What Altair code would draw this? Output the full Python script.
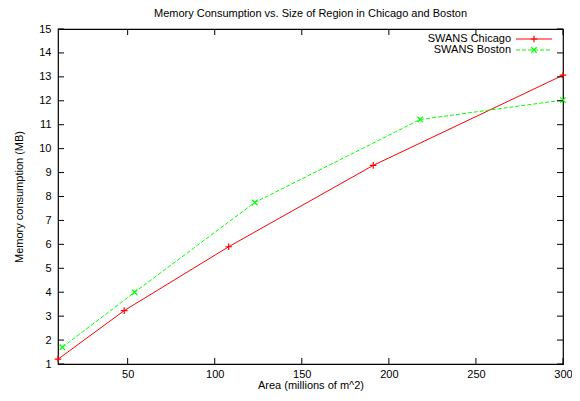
import altair as alt
import pandas as pd

# data
chicago_area = [10, 48, 108, 191, 300]
chicago_mem = [1.2, 3.23, 5.9, 9.3, 13.07]
boston_area = [12.5, 54, 123, 218, 300]
boston_mem = [1.7, 4.0, 7.75, 11.22, 12.03]
x_ticks = [50, 100, 150, 200, 250, 300]
y_ticks = list(range(1, 16))

W, H = 505, 335
FONT = "Liberation Sans"
RED = "#ff0000"
GREEN = "#00ff00"
PLUS = "M-1,0L1,0M0,-1L0,1"
CROSS = "M-1,-1L1,1M-1,1L1,-1"

xs = alt.Scale(domain=[10, 300], nice=False, zero=False)
ys = alt.Scale(domain=[1, 15], nice=False, zero=False)

x_axis = alt.Axis(values=x_ticks, title="Area (millions of m^2)", ticks=False,
                  domain=False, grid=False, labelPadding=4, titlePadding=0,
                  labelFlush=False, labelOverlap=False)
y_axis = alt.Axis(values=y_ticks, title="Memory consumption (MB)", ticks=False,
                  domain=False, grid=False, labelPadding=7, titlePadding=14,
                  labelOverlap=False, labelFlush=False)

chi = pd.DataFrame({"area": chicago_area, "mem": chicago_mem})
bos = pd.DataFrame({"area": boston_area, "mem": boston_mem})

X = alt.X("area:Q", scale=xs, axis=x_axis)
Y = alt.Y("mem:Q", scale=ys, axis=y_axis)

line_c = alt.Chart(chi).mark_line(color=RED, strokeWidth=1).encode(x=X, y=Y)
pts_c = alt.Chart(chi).mark_point(shape=PLUS, size=45, filled=False, color=RED,
                                  strokeWidth=1.2, opacity=1).encode(x=X, y=Y)
line_b = alt.Chart(bos).mark_line(color=GREEN, strokeWidth=1, strokeDash=[4, 2]).encode(x=X, y=Y)
pts_b = alt.Chart(bos).mark_point(shape=CROSS, size=30, filled=False, color=GREEN,
                                  strokeWidth=1.2, opacity=1).encode(x=X, y=Y)

# inward ticks on all four sides
xt = pd.DataFrame({"v": x_ticks})
yt = pd.DataFrame({"v": y_ticks})
XT = alt.X("v:Q", scale=xs, axis=x_axis)
YT = alt.Y("v:Q", scale=ys, axis=y_axis)
TL = 6
xt_bot = alt.Chart(xt).mark_rule(color="black", strokeWidth=1).encode(
    x=XT, y=alt.value(H), y2=alt.value(H - TL))
xt_top = alt.Chart(xt).mark_rule(color="black", strokeWidth=1).encode(
    x=XT, y=alt.value(0), y2=alt.value(TL))
yt_left = alt.Chart(yt).mark_rule(color="black", strokeWidth=1).encode(
    y=YT, x=alt.value(0), x2=alt.value(TL))
yt_right = alt.Chart(yt).mark_rule(color="black", strokeWidth=1).encode(
    y=YT, x=alt.value(W), x2=alt.value(W - TL))

# gnuplot-style legend (label left, sample right)
one = pd.DataFrame({"a": [0]})
LX_TEXT, LX1, LX2 = 453, 458, 494
R1, R2 = 10, 21
leg = [
    alt.Chart(one).mark_text(align="right", baseline="middle", fontSize=11, font=FONT).encode(
        x=alt.value(LX_TEXT), y=alt.value(R1), text=alt.value("SWANS Chicago")),
    alt.Chart(one).mark_rule(color=RED, strokeWidth=1).encode(
        x=alt.value(LX1), x2=alt.value(LX2), y=alt.value(R1)),
    alt.Chart(one).mark_point(shape=PLUS, size=45, filled=False, color=RED, strokeWidth=1.2, opacity=1).encode(
        x=alt.value((LX1 + LX2) / 2), y=alt.value(R1)),
    alt.Chart(one).mark_text(align="right", baseline="middle", fontSize=11, font=FONT).encode(
        x=alt.value(LX_TEXT), y=alt.value(R2), text=alt.value("SWANS Boston")),
    alt.Chart(one).mark_rule(color=GREEN, strokeWidth=1, strokeDash=[4, 2]).encode(
        x=alt.value(LX1), x2=alt.value(LX2), y=alt.value(R2)),
    alt.Chart(one).mark_point(shape=CROSS, size=30, filled=False, color=GREEN, strokeWidth=1.2, opacity=1).encode(
        x=alt.value((LX1 + LX2) / 2), y=alt.value(R2)),
]

chart = alt.layer(line_c, line_b, pts_c, pts_b, xt_bot, xt_top, yt_left, yt_right, *leg).properties(
    width=W, height=H,
    title=alt.Title("Memory Consumption vs. Size of Region in Chicago and Boston",
                    fontSize=11, fontWeight="normal", font=FONT, offset=4, color="black"),
    autosize=alt.AutoSizeParams(type="none"),
    padding={"left": 50, "top": 21, "right": 9, "bottom": 30},
).configure_view(stroke="black", strokeWidth=1.2).configure_axis(
    labelFont=FONT, titleFont=FONT, labelFontSize=11, titleFontSize=11,
    titleFontWeight="normal", labelColor="black", titleColor="black"
)

chart.save("out.html", embed_options={"renderer": "svg", "actions": False})
